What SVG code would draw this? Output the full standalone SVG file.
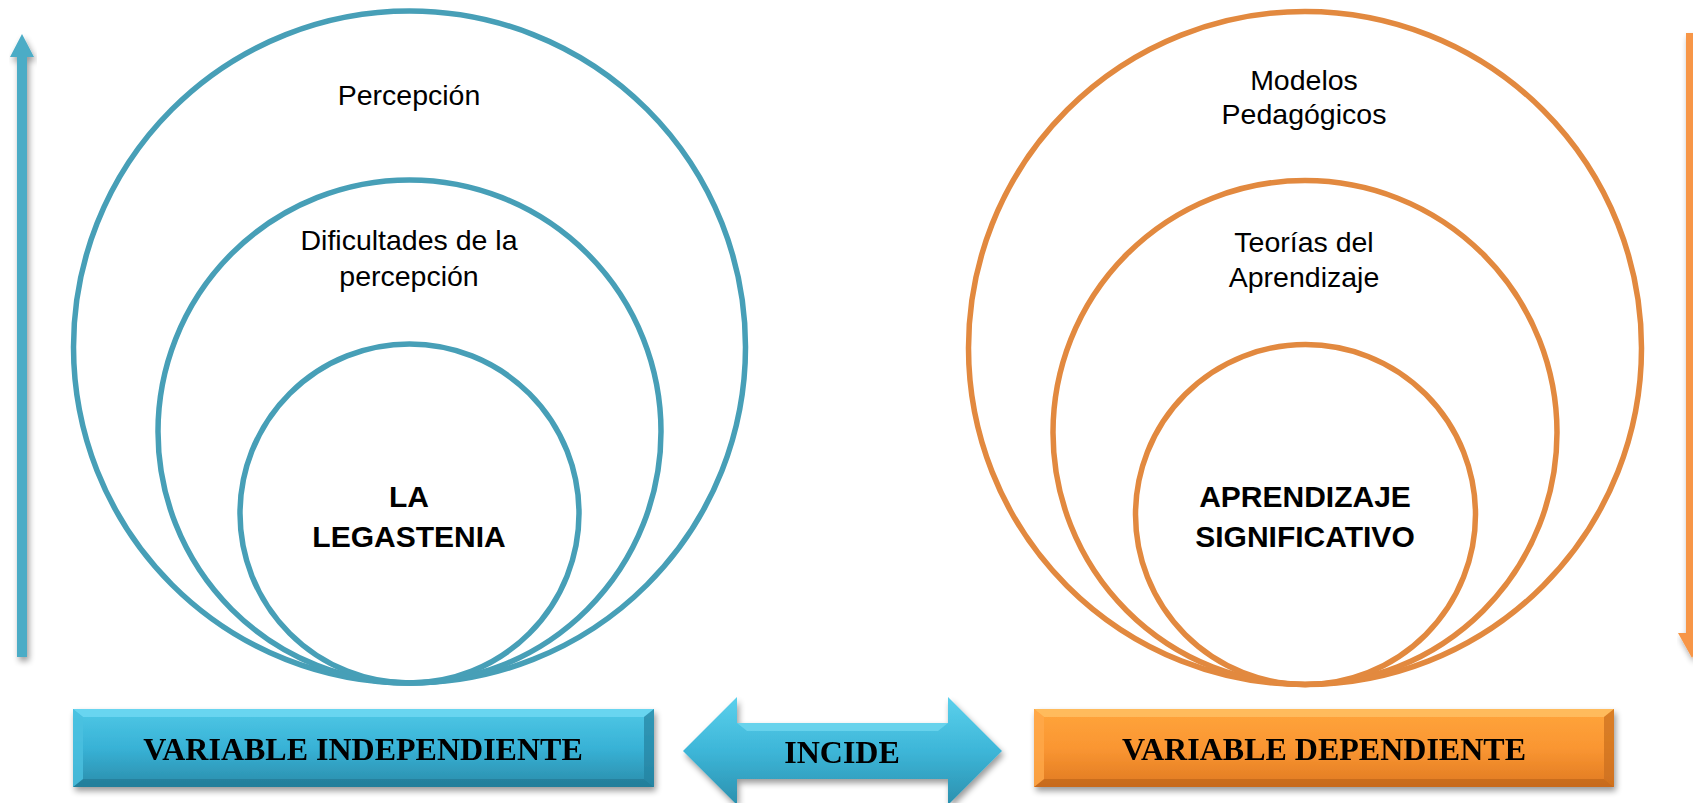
<svg xmlns="http://www.w3.org/2000/svg" width="1693" height="803" viewBox="0 0 1693 803">
<defs>
<style>
.cb{fill:none;stroke:#479FB7;stroke-width:5.5}
.co{fill:none;stroke:#E2893F;stroke-width:5.5}
.t{font-family:"Liberation Sans",Arial,sans-serif;font-size:28.5px;fill:#000;text-anchor:middle}
.tb{font-family:"Liberation Sans",Arial,sans-serif;font-size:30px;font-weight:bold;fill:#000;text-anchor:middle}
.lb{font-family:"Liberation Serif","Times New Roman",serif;font-size:32px;font-weight:bold;fill:#000;text-anchor:middle}
</style>
<linearGradient id="gb" x1="0" y1="0" x2="0" y2="1">
<stop offset="0" stop-color="#4FC8E6"/>
<stop offset="0.5" stop-color="#38B2D6"/>
<stop offset="1" stop-color="#2A8DAB"/>
</linearGradient>
<linearGradient id="go" x1="0" y1="0" x2="0" y2="1">
<stop offset="0" stop-color="#FFA53C"/>
<stop offset="0.5" stop-color="#FA9632"/>
<stop offset="1" stop-color="#E07A22"/>
</linearGradient>
<linearGradient id="ga" x1="0" y1="0" x2="0" y2="1">
<stop offset="0" stop-color="#5BD0EC"/>
<stop offset="0.5" stop-color="#3DB6D8"/>
<stop offset="1" stop-color="#2B90AE"/>
</linearGradient>
<filter id="sh" x="-10%" y="-20%" width="120%" height="150%">
<feGaussianBlur in="SourceAlpha" stdDeviation="3"/>
<feOffset dx="2" dy="4" result="b"/>
<feComponentTransfer><feFuncA type="linear" slope="0.4"/></feComponentTransfer>
<feMerge><feMergeNode/><feMergeNode in="SourceGraphic"/></feMerge>
</filter>
</defs>
<rect width="1693" height="803" fill="#fff"/>

<g id="arrow-left-vertical" filter="url(#sh)">
<polygon points="17,57 10,57 22,34 34,57 27,57 27,657 17,657" fill="#4BACC6"/>
</g>
<g id="arrow-right-vertical" filter="url(#sh)">
<polygon points="1686,33 1700,33 1700,633 1706,633 1692,658 1678,633 1686,633" fill="#F79646"/>
</g>

<g id="left-outer">
<circle class="cb" cx="409.5" cy="347" r="336"/>
<text class="t" x="409" y="105">Percepción</text>
</g>
<g id="left-middle">
<circle class="cb" cx="409.5" cy="431.5" r="251.5"/>
<text class="t" x="409" y="250">Dificultades de la</text>
<text class="t" x="409" y="286">percepción</text>
</g>
<g id="left-inner">
<circle class="cb" cx="409.5" cy="513.5" r="169.5"/>
<text class="tb" x="409" y="507">LA</text>
<text class="tb" x="409" y="547">LEGASTENIA</text>
</g>

<g id="right-outer">
<circle class="co" cx="1305" cy="348" r="336.5"/>
<text class="t" x="1304" y="90">Modelos</text>
<text class="t" x="1304" y="124">Pedagógicos</text>
</g>
<g id="right-middle">
<circle class="co" cx="1305" cy="432.5" r="252"/>
<text class="t" x="1304" y="252">Teorías del</text>
<text class="t" x="1304" y="287">Aprendizaje</text>
</g>
<g id="right-inner">
<circle class="co" cx="1305.5" cy="514.5" r="170"/>
<text class="tb" x="1305" y="507">APRENDIZAJE</text>
<text class="tb" x="1305" y="547">SIGNIFICATIVO</text>
</g>

<g id="box-independiente" filter="url(#sh)">
<rect x="73" y="709" width="581" height="78" fill="url(#gb)"/>
<polygon points="73,709 654,709 644,717 83,717" fill="#6FD8F2" opacity="0.8"/>
<polygon points="73,787 654,787 644,779 83,779" fill="#1F7590" opacity="0.6"/>
<polygon points="73,709 83,717 83,779 73,787" fill="#4BC0E0" opacity="0.8"/>
<polygon points="654,709 644,717 644,779 654,787" fill="#2582A0" opacity="0.7"/>
<text class="lb" x="363" y="760">VARIABLE INDEPENDIENTE</text>
</g>

<g id="arrow-incide" filter="url(#sh)">
<polygon points="683,751 737,697 737,723 948,723 948,697 1002,751 948,805 948,779 737,779 737,805" fill="url(#ga)"/>
<polygon points="737,723 948,723 938,731 747,731" fill="#7CDDF3" opacity="0.6"/>
<text class="lb" x="842" y="763">INCIDE</text>
</g>

<g id="box-dependiente" filter="url(#sh)">
<rect x="1034" y="709" width="580" height="78" fill="url(#go)"/>
<polygon points="1034,709 1614,709 1604,717 1044,717" fill="#FFC064" opacity="0.8"/>
<polygon points="1034,787 1614,787 1604,779 1044,779" fill="#B8611A" opacity="0.6"/>
<polygon points="1034,709 1044,717 1044,779 1034,787" fill="#FFA94A" opacity="0.8"/>
<polygon points="1614,709 1604,717 1604,779 1614,787" fill="#C96D1E" opacity="0.7"/>
<text class="lb" x="1324" y="760">VARIABLE DEPENDIENTE</text>
</g>
</svg>
